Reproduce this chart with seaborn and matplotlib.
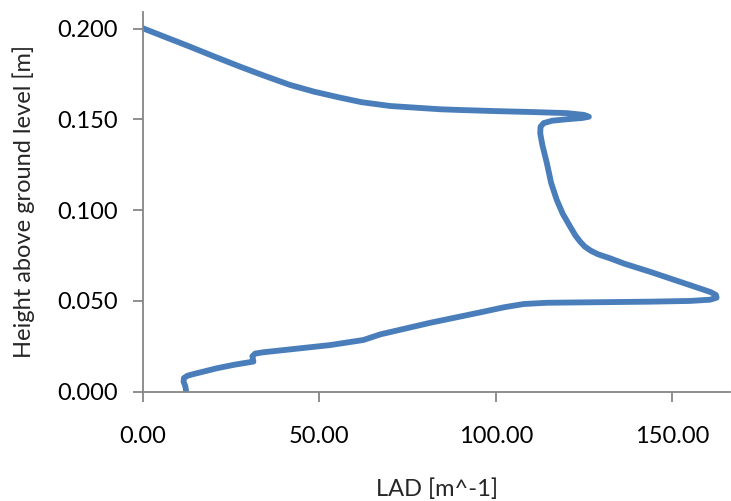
import matplotlib
matplotlib.use("Agg")
import matplotlib.pyplot as plt
import seaborn as sns
import pandas as pd

lad = [12.2, 12.0, 11.5, 11.6, 12.6, 14.5, 20.9, 26.0, 31.3, 31.0, 31.8, 34.0, 44.5,
       53.1, 62.5, 67.3, 81.5, 95.6, 102.3, 107.9, 114.5, 124.0, 143.7, 155.0, 160.8,
       162.6, 162.4, 161.0, 158.9, 150.0, 143.7, 136.5, 132.4, 129.0, 127.0, 125.2,
       124.0, 122.6, 121.1, 119.0, 117.3, 115.7, 114.5, 113.2, 112.6, 112.7, 113.6,
       116.0, 120.1, 124.5, 126.4, 125.0, 120.0, 110.0, 100.0, 90.0, 84.3, 70.1, 62.0,
       55.9, 48.5, 41.7, 34.5, 27.5, 20.3, 13.3, 0.0]
height = [0.0005, 0.003, 0.0055, 0.0075, 0.0088, 0.0098, 0.0129, 0.0149, 0.0166, 0.0195,
          0.0210, 0.0217, 0.0239, 0.0257, 0.0285, 0.0316, 0.0380, 0.0437, 0.0465, 0.0483,
          0.0490, 0.0492, 0.0496, 0.0500, 0.0507, 0.0518, 0.0533, 0.0548, 0.0562, 0.0620,
          0.0661, 0.0705, 0.0735, 0.0757, 0.0776, 0.0800, 0.0825, 0.0860, 0.0909, 0.0980,
          0.1056, 0.1150, 0.1258, 0.1360, 0.1424, 0.1460, 0.1480, 0.1493, 0.1501, 0.1508,
          0.1515, 0.1525, 0.1535, 0.1541, 0.1546, 0.1552, 0.1556, 0.1574, 0.1595, 0.1620,
          0.1653, 0.1690, 0.1740, 0.1791, 0.1846, 0.1901, 0.2002]
x_ticks = [0, 50, 100, 150]
y_ticks = [0.0, 0.05, 0.10, 0.15, 0.20]

sns.set_theme(style="white")
plt.rcParams['font.family'] = ['Lato', 'DejaVu Sans']

df = pd.DataFrame({"LAD": lad, "H": height})
fig = plt.figure(figsize=(7.31, 5.01), dpi=100)
ax = fig.add_axes([143/731, 1 - 391.7/501, (730 - 143)/731, (391.7 - 12)/501])
sns.lineplot(data=df, x="LAD", y="H", sort=False, estimator=None, ax=ax,
             color="#4A7EBB", linewidth=4.2, solid_joinstyle="round", solid_capstyle="round")
ax.set_xlim(0, 166.4)
ax.set_ylim(0, 0.2092)
ax.set_xticks(x_ticks)
ax.set_xticklabels([f"{v:.2f}" for v in x_ticks])
ax.set_yticks(y_ticks)
ax.set_yticklabels([f"{v:.3f}" for v in y_ticks])
for s in ["top", "right"]:
    ax.spines[s].set_visible(False)
for s in ["left", "bottom"]:
    ax.spines[s].set_color("#868686")
    ax.spines[s].set_linewidth(1.3)
ax.tick_params(axis="both", direction="out", length=7, width=1.3, color="#868686",
               labelsize=17, labelcolor="black", pad=11, bottom=True, left=True)
ax.tick_params(axis="x", pad=18)
ax.set_xlabel("LAD [m^-1]", fontsize=17, labelpad=22)
ax.set_ylabel("Height above ground level [m]", fontsize=17, labelpad=16)
fig.savefig("out.png", dpi=100)
